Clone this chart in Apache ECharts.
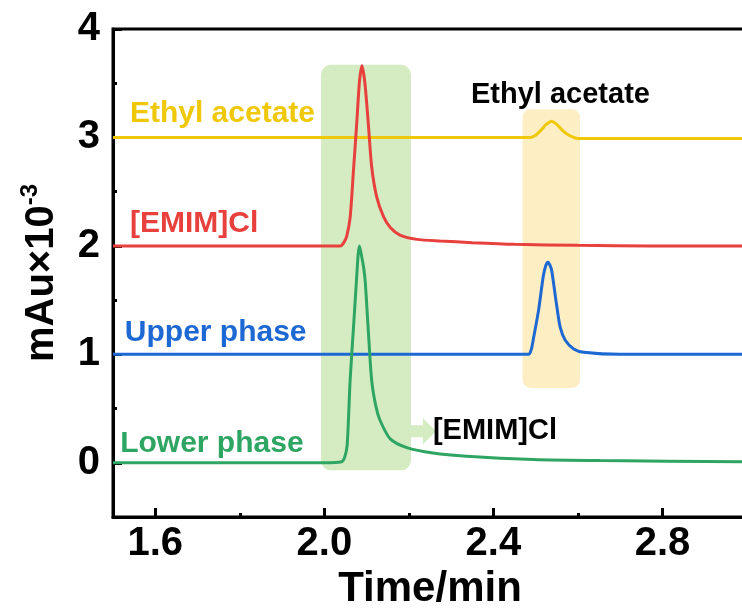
<!DOCTYPE html>
<html>
<head>
<meta charset="utf-8">
<script src="https://cdn.jsdelivr.net/npm/echarts@6/dist/echarts.min.js"></script>
<style>
  html, body { margin: 0; padding: 0; background: #fff; }
  #chart { width: 742px; height: 610px; }
</style>
</head>
<body>
<div id="chart"></div>
<script>
// axis ticks
const xTicks = [1.6, 2.0, 2.4, 2.8];
const xMinorTicks = [1.8, 2.2, 2.6];
const yTicks = [0, 1, 2, 3, 4];
const yMinorTicks = [0.5, 1.5, 2.5, 3.5];

// traces (time in min, signal in mAu x 10^-3, already offset)
const ethylTime = [1.50, 2.487, 2.500, 2.511, 2.525, 2.538, 2.550, 2.562, 2.575, 2.590, 2.600, 3.00];
const ethylValue = [3.00, 3.00, 3.02, 3.06, 3.12, 3.15, 3.12, 3.07, 3.03, 3.00, 2.99, 2.99];

const emimTime = [1.50, 2.000, 2.038, 2.046, 2.053, 2.061, 2.069, 2.077, 2.083, 2.089, 2.096, 2.104, 2.112, 2.124, 2.140, 2.156, 2.179, 2.219, 2.274, 2.350, 2.450, 2.600, 2.771, 3.00];
const emimValue = [2.00, 2.00, 2.00, 2.03, 2.09, 2.26, 2.70, 3.15, 3.51, 3.66, 3.50, 3.13, 2.73, 2.45, 2.27, 2.17, 2.10, 2.06, 2.045, 2.03, 2.015, 2.005, 2.00, 2.00];

const upperTime = [1.50, 2.483, 2.490, 2.495, 2.507, 2.518, 2.524, 2.529, 2.534, 2.538, 2.549, 2.558, 2.570, 2.590, 2.613, 2.700, 3.00];
const upperValue = [1.00, 1.00, 1.05, 1.15, 1.41, 1.72, 1.82, 1.85, 1.82, 1.77, 1.47, 1.25, 1.13, 1.05, 1.02, 1.00, 1.00];

const lowerTime = [1.50, 2.000, 2.041, 2.048, 2.054, 2.061, 2.069, 2.076, 2.080, 2.083, 2.087, 2.093, 2.097, 2.104, 2.112, 2.122, 2.132, 2.156, 2.195, 2.257, 2.337, 2.494, 2.653, 3.00];
const lowerValue = [0.00, 0.00, 0.01, 0.05, 0.16, 0.76, 1.25, 1.68, 1.92, 2.00, 1.93, 1.80, 1.66, 1.22, 0.76, 0.52, 0.39, 0.22, 0.14, 0.09, 0.06, 0.03, 0.02, 0.01];

// highlight boxes [tStart, tEnd, vLow, vHigh]
const emimBox = [1.992, 2.205, -0.07, 3.67];
const ethylBox = [2.469, 2.605, 0.69, 3.26];

const font = '"Liberation Sans", Arial, sans-serif';
const colors = { ethyl: '#f0c80a', emim: '#e8403c', upper: '#1e68d4', lower: '#2ea562' };

function pairs(xs, ys) {
  return xs.map((x, i) => [x, ys[i]]);
}

function trace(name, xs, ys, color) {
  return {
    name: name,
    type: 'line',
    data: pairs(xs, ys),
    showSymbol: false,
    smooth: 0.25,
    lineStyle: { color: color, width: 3 },
    silent: true,
    z: 5
  };
}

const chart = echarts.init(document.getElementById('chart'));

chart.setOption({
  animation: false,
  grid: { left: 113, right: -5, top: 29, bottom: 93, outerBoundsMode: 'none',
          show: true, borderColor: '#000', borderWidth: 3, backgroundColor: 'transparent' },
  xAxis: [
    {
      type: 'value', min: 1.5, max: 3.0,
      name: 'Time/min', nameLocation: 'middle', nameGap: 40,
      nameTextStyle: { fontFamily: font, fontWeight: 'bold', fontSize: 42, color: '#000' },
      axisLine: { show: true, onZero: false, lineStyle: { color: '#000', width: 3 } },
      axisTick: { show: true, inside: true, length: 9, customValues: xTicks, lineStyle: { color: '#000', width: 3 } },
      axisLabel: { customValues: xTicks, margin: 7, formatter: v => v.toFixed(1),
                   fontFamily: font, fontWeight: 'bold', fontSize: 40, color: '#000' },
      splitLine: { show: false }
    },
    {
      type: 'value', min: 1.5, max: 3.0, position: 'bottom',
      axisLine: { show: false, onZero: false },
      axisTick: { show: true, inside: true, length: 4, customValues: xMinorTicks, lineStyle: { color: '#000', width: 3 } },
      axisLabel: { show: false },
      splitLine: { show: false }
    }
  ],
  yAxis: [
    {
      type: 'value', min: -0.5, max: 4,
      name: '{a|mAu×10}{s|-3}', nameLocation: 'middle', nameGap: 47,
      nameTextStyle: {
        rich: {
          a: { fontFamily: font, fontWeight: 'bold', fontSize: 40, color: '#000', lineHeight: 48 },
          s: { fontFamily: font, fontWeight: 'bold', fontSize: 24, color: '#000', verticalAlign: 'top', lineHeight: 48 }
        }
      },
      axisLine: { show: true, onZero: false, lineStyle: { color: '#000', width: 3 } },
      axisTick: { show: true, inside: true, length: 9, customValues: yTicks, lineStyle: { color: '#000', width: 3 } },
      axisLabel: { customValues: yTicks, margin: 13,
                   fontFamily: font, fontWeight: 'bold', fontSize: 40, color: '#000' },
      splitLine: { show: false }
    },
    {
      type: 'value', min: -0.5, max: 4, position: 'left',
      axisLine: { show: false, onZero: false },
      axisTick: { show: true, inside: true, length: 4, customValues: yMinorTicks, lineStyle: { color: '#000', width: 3 } },
      axisLabel: { show: false },
      splitLine: { show: false }
    }
  ],
  series: [
    trace('Ethyl acetate', ethylTime, ethylValue, colors.ethyl),
    trace('[EMIM]Cl', emimTime, emimValue, colors.emim),
    trace('Upper phase', upperTime, upperValue, colors.upper),
    trace('Lower phase', lowerTime, lowerValue, colors.lower)
  ]
});

// boxes, arrow and labels placed through the axes
function boxRect(b) {
  const p1 = chart.convertToPixel({ gridIndex: 0 }, [b[0], b[3]]);
  const p2 = chart.convertToPixel({ gridIndex: 0 }, [b[1], b[2]]);
  return { x: p1[0], y: p1[1], width: p2[0] - p1[0], height: p2[1] - p1[1] };
}

function at(t, v) {
  return chart.convertToPixel({ gridIndex: 0 }, [t, v]);
}

function label(text, t, v, color, size) {
  const p = at(t, v);
  return {
    type: 'text', x: p[0], y: p[1], z: 20,
    style: { text: text, fill: color, font: 'bold ' + size + 'px ' + font, textVerticalAlign: 'middle' }
  };
}

const g = boxRect(emimBox);
const y = boxRect(ethylBox);
const arrowY = at(2.2, 0.29)[1];
const ax = g.x + g.width;

chart.setOption({
  graphic: [
    { type: 'rect', z: 1, shape: Object.assign({ r: 10 }, g), style: { fill: '#d5ecc3' } },
    { type: 'rect', z: 1, shape: Object.assign({ r: 8 }, y), style: { fill: '#fdeec4' } },
    {
      type: 'polygon', z: 1,
      shape: { points: [
        [ax, arrowY - 6], [ax + 12, arrowY - 6], [ax + 12, arrowY - 13], [ax + 25, arrowY],
        [ax + 12, arrowY + 13], [ax + 12, arrowY + 6], [ax, arrowY + 6]
      ] },
      style: { fill: '#d5ecc3' }
    },
    label('Ethyl acetate', 1.540, 3.215, colors.ethyl, 30),
    label('[EMIM]Cl', 1.540, 2.20, colors.emim, 30),
    label('Upper phase', 1.528, 1.20, colors.upper, 30),
    label('Lower phase', 1.517, 0.175, colors.lower, 30),
    label('Ethyl acetate', 2.347, 3.39, '#000', 29),
    label('[EMIM]Cl', 2.257, 0.29, '#000', 29)
  ]
});
</script>
</body>
</html>
